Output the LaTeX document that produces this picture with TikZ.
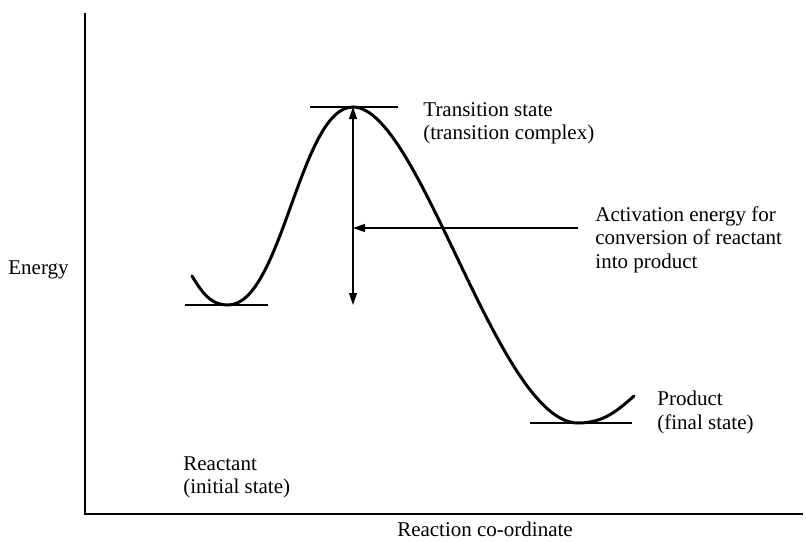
\documentclass[tikz,border=0pt]{standalone}
\usepackage{fontspec}
\setmainfont{Liberation Serif}
\usetikzlibrary{arrows.meta, positioning}

\begin{document}
\begin{tikzpicture}[x=0.5pt, y=-0.5pt,
  lbl/.style={font=\fontsize{10.5}{11.8}\selectfont, align=left, inner sep=0pt},
  axis/.style={line width=1pt},
  level/.style={line width=0.7pt},
  curve/.style={line width=1.5pt, line cap=round},
  arr/.style={line width=0.6pt, -{Triangle[length=6pt, width=4pt]}},
  darr/.style={line width=0.6pt, {Triangle[length=6pt, width=4pt]}-{Triangle[length=6pt, width=4pt]}}]
  \useasboundingbox (0,0) rectangle (806,541);

  % Axes
  \coordinate (ytop) at (85,13);
  \coordinate (origin) at (85,514);
  \coordinate (xend) at (803,514);
  \draw[axis] (ytop) -- (origin) -- (xend);
  \node[lbl, anchor=west] (energy) at (8,270) {Energy};
  \node[lbl, anchor=north] (coord) at (485,522) {Reaction co-ordinate};

  % Energy levels
  \coordinate (reac) at (228,305);
  \coordinate (peak) at (353,107);
  \coordinate (prod) at (578,423);
  \draw[level] (185,305) -- (268,305);
  \draw[level] (310,107) -- (398,107);
  \draw[level] (530,423) -- (632,423);

  % Reaction profile
  \draw[curve] (192,276) .. controls (205,298) and (214,305) .. (reac)
    .. controls (282,305) and (300,107) .. (peak)
    .. controls (420,107) and (498,423) .. (prod)
    .. controls (604,423) and (618,410) .. (634,396);

  % Activation energy
  \coordinate (base) at (353,305);
  \coordinate (mid) at (353,228);
  \draw[darr] (base) -- (peak);
  \node[lbl, anchor=north west] (act) at (595,206)
    {Activation energy for\\conversion of reactant\\into product};
  \coordinate (tail) at (578,228);
  \draw[arr] (tail) -- (mid);

  % State labels
  \node[lbl, anchor=north west] (ts) at (423,102) {Transition state\\(transition complex)};
  \node[lbl, anchor=north west] (product) at (657,391) {Product\\(final state)};
  \node[lbl, anchor=north west] (reactant) at (183,456) {Reactant\\(initial state)};
\end{tikzpicture}
\end{document}
